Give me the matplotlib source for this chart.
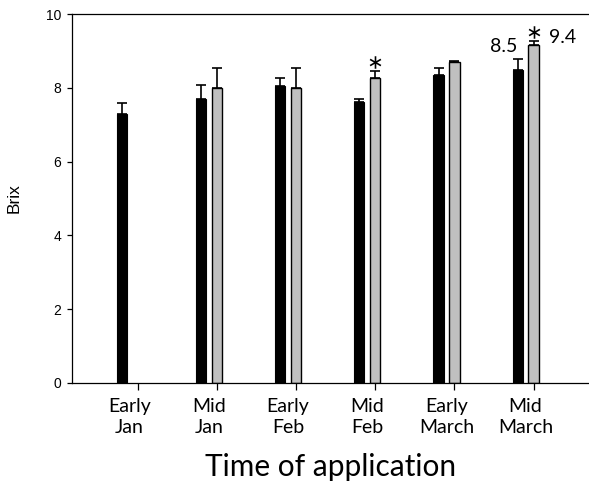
import matplotlib
matplotlib.use("Agg")
import matplotlib.pyplot as plt
import matplotlib.transforms as mtransforms
import numpy as np

# data
groups = ["Early\nJan", "Mid\nJan", "Early\nFeb", "Mid\nFeb", "Early\nMarch", "Mid\nMarch"]
black_vals = [7.29, 7.70, 8.04, 7.62, 8.35, 8.48]
black_err = [0.29, 0.37, 0.22, 0.07, 0.20, 0.30]
grey_vals = [np.nan, 8.00, 8.00, 8.28, 8.71, 9.16]
grey_err = [0.0, 0.55, 0.55, 0.19, 0.02, 0.12]
star_groups = [3, 5]

x = np.arange(len(groups))
width = 0.13
label_font = ["Lato", "DejaVu Sans"]
arial = ["Liberation Sans", "DejaVu Sans"]

fig = plt.figure(figsize=(5.89, 4.92), dpi=100)
ax = fig.add_axes([0.122, 0.222, 0.878, 0.749])

ekw = dict(ecolor="black", elinewidth=1.2, capsize=3.8, capthick=1.2)
ax.bar(x - 0.2, black_vals, width, color="black", edgecolor="black", linewidth=0.8,
       yerr=[np.zeros(len(x)), black_err], error_kw=ekw)
keep = ~np.isnan(grey_vals)
grey_x = x[keep]
grey_v = np.array(grey_vals)[keep]
grey_e = np.array(grey_err)[keep]
ax.bar(grey_x, grey_v, width, color="#c0c0c0", edgecolor="black", linewidth=1.0,
       yerr=[np.zeros(len(grey_x)), grey_e], error_kw=ekw)

# significance stars on top of grey bars
for g in star_groups:
    top = grey_vals[g] + grey_err[g]
    ax.plot(g, top + 0.24, marker=r"$\ast$", ms=9, color="black", mew=0)

ax.text(5 - 0.2, 8.97, "8.5", ha="right", va="baseline", fontsize=14, family=label_font)
ax.text(5 + 0.19, 9.21, "9.4", ha="left", va="baseline", fontsize=14, family=label_font)

ax.set_xlim(-0.83, 5.70)
ax.set_ylim(0, 10)
ax.set_yticks(np.arange(0, 11, 2))
ax.set_xticks(x)
ax.set_xticklabels(groups, family=label_font, fontsize=14, linespacing=1.25)
ax.tick_params(axis="y", labelsize=10, direction="out", length=3.6, width=0.9, pad=4)
ax.tick_params(axis="x", direction="out", length=5, width=0.9, pad=6)
for lab in ax.get_yticklabels():
    lab.set_family(arial)

# shift category labels a touch to the left, as in the original
offset = mtransforms.ScaledTranslation(-8 / 100, 0, fig.dpi_scale_trans)
for lab in ax.get_xticklabels():
    lab.set_transform(lab.get_transform() + offset)

ax.spines["right"].set_visible(False)
for s in ["left", "bottom", "top"]:
    ax.spines[s].set_linewidth(0.9)

ax.set_ylabel("Brix", fontsize=12.5, family=arial)
ax.yaxis.set_label_coords(-0.098, 0.5)
ax.set_xlabel("Time of application", fontsize=21.5, family=label_font)
ax.xaxis.set_label_coords(0.5, -0.19)

fig.savefig("out.png", dpi=100)
